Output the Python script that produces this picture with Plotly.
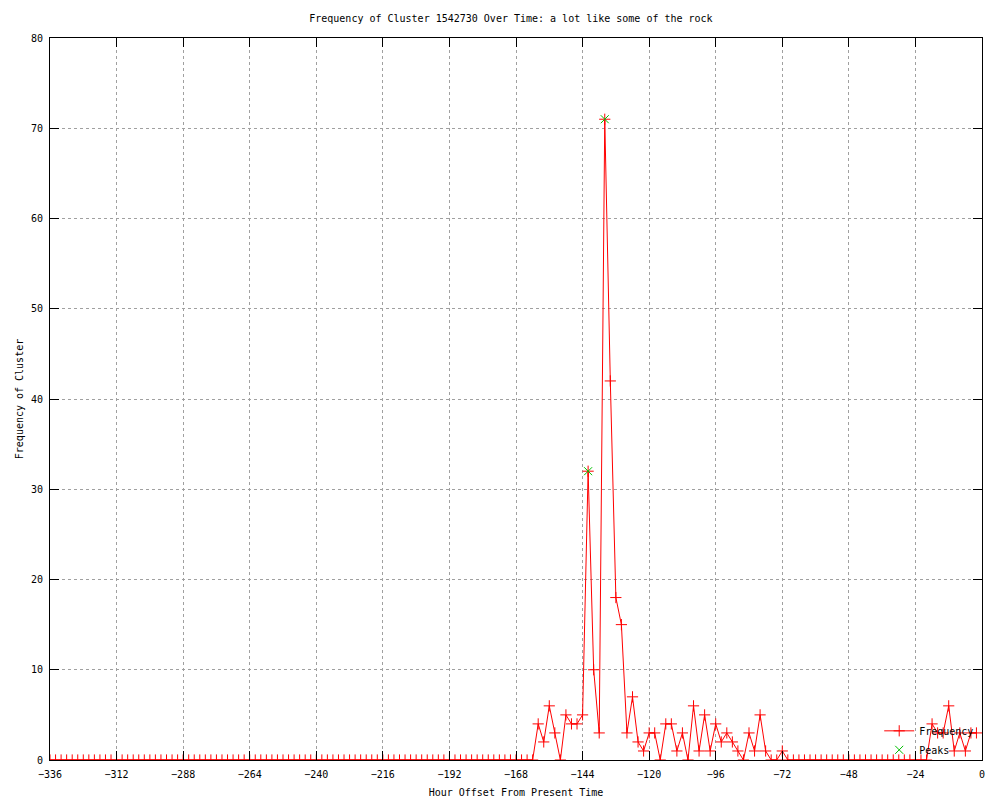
import plotly.graph_objects as go

# Hour offsets (every 2 hours from -336 to -2)
hours = list(range(-336, 0, 2))

# Frequency values, one per hour offset
frequency = [
    0, 0, 0, 0, 0, 0, 0, 0, 0, 0, 0, 0,   # -336 .. -314
    0, 0, 0, 0, 0, 0, 0, 0, 0, 0, 0, 0,   # -312 .. -290
    0, 0, 0, 0, 0, 0, 0, 0, 0, 0, 0, 0,   # -288 .. -266
    0, 0, 0, 0, 0, 0, 0, 0, 0, 0, 0, 0,   # -264 .. -242
    0, 0, 0, 0, 0, 0, 0, 0, 0, 0, 0, 0,   # -240 .. -218
    0, 0, 0, 0, 0, 0, 0, 0, 0, 0, 0, 0,   # -216 .. -194
    0, 0, 0, 0, 0, 0, 0, 0, 0, 0, 0, 0,   # -192 .. -170
    0, 0, 0, 0,            # -168 .. -162
    4, 2, 6, 3, 0, 5,      # -160 .. -150
    4, 4, 5, 32, 10, 3,    # -148 .. -138
    71, 42, 18, 15, 3, 7,  # -136 .. -126
    2, 1, 3, 3, 0, 4,      # -124 .. -114
    4, 1, 3, 0, 6, 1,      # -112 .. -102
    5, 1, 4, 2, 3, 2,      # -100 .. -90
    1, 0, 3, 1, 5, 1,      # -88 .. -78
    0, 0, 1, 0, 0, 0,      # -76 .. -66
    0, 0, 0, 0, 0, 0,      # -64 .. -54
    0, 0, 0, 0, 0, 0,      # -52 .. -42
    0, 0, 0, 0, 0, 0,      # -40 .. -30
    0, 0, 0, 0, 0, 4,      # -28 .. -18
    3, 3, 6, 1, 3, 1,      # -16 .. -6
    3, 3,                  # -4 .. -2
]

# Detected peaks
peak_hours = [-142, -136]
peak_values = [32, 71]

x_ticks = list(range(-336, 1, 24))
y_ticks = list(range(0, 81, 10))

FONT = "DejaVu Sans Mono"
FS = 10

fig = go.Figure()
fig.add_trace(go.Scatter(
    x=hours, y=frequency, mode="lines+markers", name="Frequency",
    line=dict(color="#ff0000", width=1),
    marker=dict(symbol="cross-thin", size=8, line=dict(color="#ff0000", width=1)),
))
fig.add_trace(go.Scatter(
    x=peak_hours, y=peak_values, mode="markers", name="Peaks",
    marker=dict(symbol="x-thin", size=8, line=dict(color="#00c000", width=1)),
))

axis_common = dict(
    showline=True, linecolor="black", linewidth=1, mirror="ticks",
    ticks="inside", ticklen=9, tickcolor="black", tickwidth=1,
    showgrid=True, gridcolor="#a0a0a0", griddash="dot", gridwidth=1,
    zeroline=False, tickfont=dict(family=FONT, size=FS, color="black"),
)

fig.update_layout(
    width=992, height=792,
    paper_bgcolor="white", plot_bgcolor="white",
    margin=dict(l=42, r=18, t=30, b=40),
    title=dict(text="Frequency of Cluster 1542730 Over Time: a lot like some of the rock",
               x=0.507, xanchor="center", y=0.987, yanchor="middle",
               font=dict(family=FONT, size=FS, color="black")),
    xaxis=dict(range=[-336, 0], tickvals=x_ticks, ticklabelstandoff=5,
               title=dict(text="Hour Offset From Present Time", standoff=9,
                          font=dict(family=FONT, size=FS, color="black")),
               automargin=False, **axis_common),
    yaxis=dict(range=[0, 80], tickvals=y_ticks, ticklabelstandoff=4,
               title=dict(text="Frequency of Cluster", standoff=5,
                          font=dict(family=FONT, size=FS, color="black")),
               automargin=False, **axis_common),
    legend=dict(x=0.997, y=-0.006, xanchor="right", yanchor="bottom",
                bgcolor="rgba(0,0,0,0)", font=dict(family=FONT, size=FS, color="black"),
                tracegroupgap=0, itemwidth=30),
    showlegend=True,
)

fig.write_html("out.html")
